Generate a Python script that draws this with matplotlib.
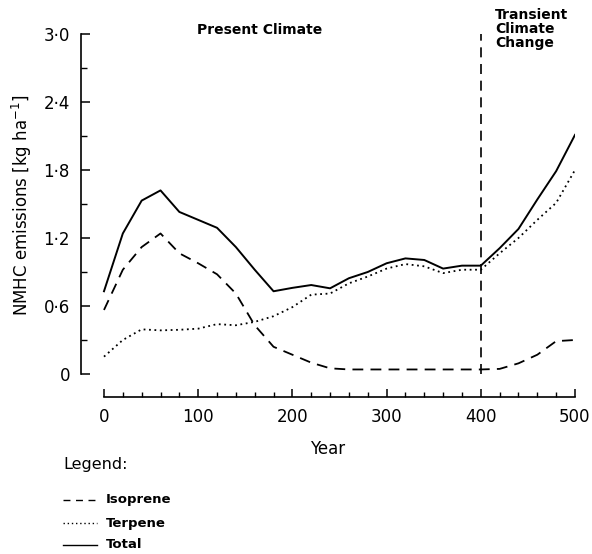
import matplotlib
matplotlib.use("Agg")
import matplotlib.pyplot as plt
from matplotlib.ticker import FixedLocator
from matplotlib.lines import Line2D

years = [0, 20, 40, 60, 80, 100, 120, 140, 160, 180, 200, 220, 240, 260, 280,
         300, 320, 340, 360, 380, 400, 420, 440, 460, 480, 500]
total = [0.73, 1.24, 1.53, 1.62, 1.43, 1.36, 1.29, 1.12, 0.92, 0.73, 0.76, 0.785,
         0.756, 0.845, 0.90, 0.977, 1.02, 1.006, 0.93, 0.956, 0.956, 1.11, 1.28,
         1.54, 1.79, 2.11]
isoprene = [0.565, 0.92, 1.12, 1.24, 1.065, 0.977, 0.88, 0.71, 0.43, 0.24, 0.17,
            0.10, 0.05, 0.04, 0.04, 0.04, 0.04, 0.04, 0.04, 0.04, 0.04, 0.045,
            0.094, 0.17, 0.29, 0.30]
terpene = [0.153, 0.30, 0.394, 0.385, 0.39, 0.40, 0.44, 0.43, 0.46, 0.51, 0.59,
           0.70, 0.71, 0.80, 0.86, 0.93, 0.97, 0.95, 0.89, 0.92, 0.92, 1.065,
           1.20, 1.36, 1.51, 1.80]
ytick_vals = [0, 0.6, 1.2, 1.8, 2.4, 3.0]
ytick_labels = ["0", "0·6", "1·2", "1·8", "2·4", "3·0"]
xtick_vals = [0, 100, 200, 300, 400, 500]

plt.rcParams['font.family'] = ['DejaVu Sans']

fig = plt.figure(figsize=(5.92, 5.54), dpi=100)
ax = fig.add_axes([81/592, 1-397/554, 494/592, 363/554])
ax.set_xlim(-24.4, 500)
ax.set_ylim(-0.203, 3.0)

ax.plot(years, isoprene, color='black', lw=1.3, linestyle=(0, (6, 4)))
ax.plot(years, terpene, color='black', lw=1.3, linestyle=(0, (1, 2)))
ax.plot(years, total, color='black', lw=1.4, linestyle='-')
ax.plot([400, 400], [0.0, 3.0], color='black', lw=1.2, linestyle=(0, (6, 4)))

for s in ['top', 'right']:
    ax.spines[s].set_visible(False)
ax.spines['left'].set_bounds(0, 3.0)
ax.spines['bottom'].set_bounds(0, 500)
ax.spines['left'].set_linewidth(1.2)
ax.spines['bottom'].set_linewidth(1.2)

ax.yaxis.set_major_locator(FixedLocator(ytick_vals))
ax.set_yticklabels(ytick_labels)
ax.yaxis.set_minor_locator(FixedLocator([0.3, 0.9, 1.5, 2.1, 2.7]))
ax.xaxis.set_major_locator(FixedLocator(xtick_vals))
ax.xaxis.set_minor_locator(FixedLocator([v for v in range(20, 500, 20) if v % 100 != 0]))
ax.tick_params(axis='y', which='major', direction='in', length=6.5, width=1.1, pad=8, labelsize=12)
ax.tick_params(axis='y', which='minor', direction='in', length=4, width=1.0)
ax.tick_params(axis='x', which='major', direction='in', length=6, width=1.1, pad=8, labelsize=12)
ax.tick_params(axis='x', which='minor', direction='in', length=3.5, width=1.0)

ax.set_xlabel("Year", fontsize=12, labelpad=10)
fig.text(22/592, 1-205/554, "NMHC emissions [kg ha$^{-1}$]", rotation=90,
         ha='center', va='center', fontsize=12)

fig.text(260/592, 1-30/554, "Present Climate", ha='center', va='center',
         fontsize=10, fontweight='bold')
fig.text(495/592, 1-8/554, "Transient\nClimate\nChange", ha='left', va='top',
         fontsize=10, fontweight='bold', linespacing=1.0)

fig.text(63/592, 1-465/554, "Legend:", ha='left', va='center', fontsize=11.5)
legend_items = [("Isoprene", (0, (5, 4)), 500), ("Terpene", (0, (1, 2)), 523),
                ("Total", '-', 545)]
for name, ls, ypx in legend_items:
    fig.add_artist(Line2D([63/592, 97/592], [1-ypx/554, 1-ypx/554],
                          color='black', lw=1.0, linestyle=ls, transform=fig.transFigure))
    fig.text(106/592, 1-ypx/554, name, ha='left', va='center', fontsize=9.5,
             fontweight='bold')

fig.savefig("out.png", dpi=100)
